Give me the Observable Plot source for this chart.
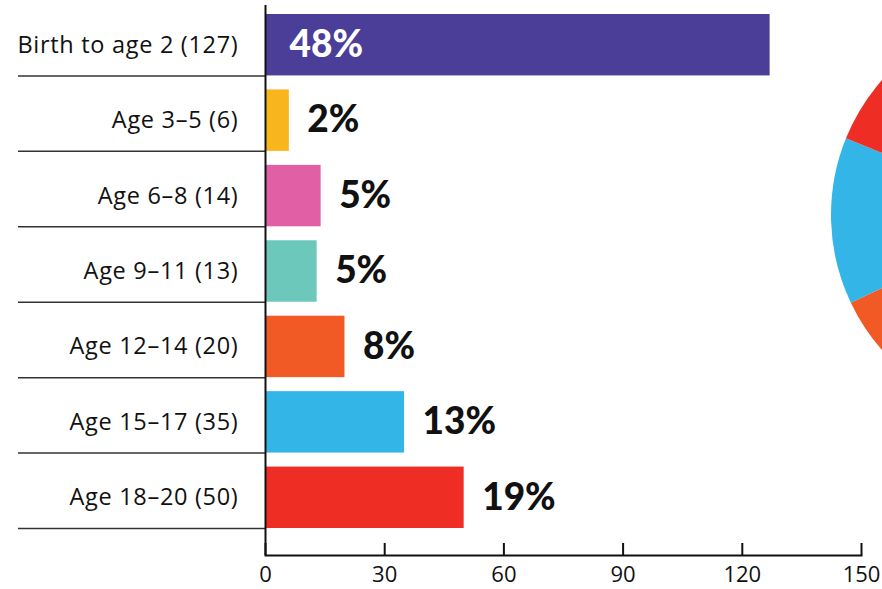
<!DOCTYPE html>
<html><head><meta charset="utf-8">
<script src="https://cdn.jsdelivr.net/npm/d3@7"></script>
<script src="https://cdn.jsdelivr.net/npm/@observablehq/plot@0.6"></script>
<style>body{margin:0;background:#fff;overflow:hidden} .cat text{letter-spacing:0.7px}</style>
</head><body><div id="chart"></div>
<script>
const categories = ["Birth to age 2 (127)", "Age 3–5 (6)", "Age 6–8 (14)", "Age 9–11 (13)", "Age 12–14 (20)", "Age 15–17 (35)", "Age 18–20 (50)"];
const counts = [127, 6, 14, 13, 20, 35, 50];
const percentLabels = ["48%", "2%", "5%", "5%", "8%", "13%", "19%"];
const colors = ["#4a3e98", "#f8b61c", "#e05fa5", "#6cc8bb", "#f15a25", "#33b5e8", "#ee2e25"];
const xTicks = [0, 30, 60, 90, 120, 150];

const data = categories.map((c, i) => ({category: c, count: counts[i], pct: percentLabels[i], inside: i === 0}));
const colorOf = d3.scaleOrdinal(categories, colors);

const W = 882, H = 589;
const bandTotal = 528;
const half = bandTotal / categories.length / 2;

function pieMark() {
  const g = d3.create("svg:g").attr("transform", `translate(${W + 153},215)`);
  const arcs = d3.pie().sort(null).value(d => d.count)(data);
  const arc = d3.arc().innerRadius(0).outerRadius(204);
  g.selectAll("path").data(arcs).join("path")
    .attr("d", arc)
    .attr("fill", d => colorOf(d.data.category));
  return g.node();
}

const chart = Plot.plot({
  width: W, height: H,
  marginLeft: 265, marginRight: 21, marginTop: 0, marginBottom: 34,
  style: {fontFamily: "'Open Sans', sans-serif", fontSize: "22px", color: "#111", background: "white"},
  x: {domain: [0, 150], ticks: xTicks, tickSize: 0, tickPadding: 11, label: null, tickFormat: d => d},
  y: {domain: categories, range: [0, bandTotal], padding: 0, round: false, axis: null},
  color: {domain: categories, range: colors},
  marks: [
    pieMark,
    Plot.barX(data, {y: "category", x: "count", fill: "category", insetTop: 14}),
    Plot.ruleY(categories, {y: d => d, dy: half, insetLeft: -247, insetRight: 596, stroke: "#333", strokeWidth: 1.5}),
    Plot.ruleX([0], {insetTop: 5, stroke: "#111", strokeWidth: 2}),
    Plot.frame({anchor: "bottom", stroke: "#111", strokeWidth: 2}),
    Plot.tickX(xTicks, {x: d => d, insetTop: 555 - 12, stroke: "#111", strokeWidth: 2}),
    Plot.text(data, {y: "category", x: 0, text: "category", textAnchor: "end", dx: -27, dy: 7, fill: "#111", fontSize: 23.5, fontWeight: 500, className: "cat"}),
    Plot.text(data.filter(d => d.inside), {y: "category", x: 0, text: "pct", textAnchor: "start", dx: 24, dy: 7, fill: "white", fontSize: 37, fontWeight: 900, fontFamily: "Lato, sans-serif"}),
    Plot.text(data.filter(d => !d.inside), {y: "category", x: "count", text: "pct", textAnchor: "start", dx: 18, dy: 7, fill: "#111", fontSize: 37, fontWeight: 900, fontFamily: "Lato, sans-serif"})
  ]
});
document.getElementById("chart").appendChild(chart);
</script>
</body></html>
